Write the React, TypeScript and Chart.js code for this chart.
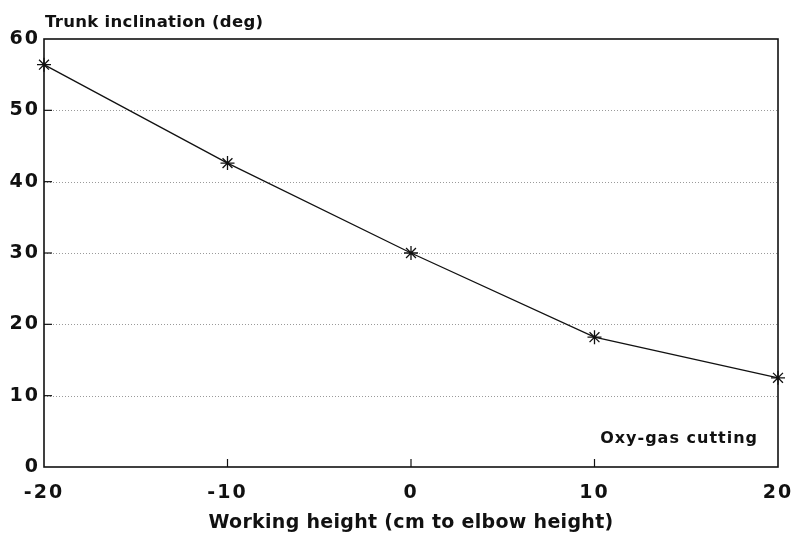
import React, { useEffect, useRef } from 'react';
import { Chart, registerables } from 'chart.js';

Chart.register(...registerables);

const workingHeights = [-20, -10, 0, 10, 20];
const trunkInclination = [56.4, 42.6, 30.0, 18.2, 12.5];
const xTickValues = [-20, -10, 0, 10, 20];
const yTickValues = [0, 10, 20, 30, 40, 50, 60];
const yTitle = 'Trunk inclination (deg)';
const xTitle = 'Working height (cm to elbow height)';
const noteText = 'Oxy-gas cutting';

const FONT = '"DejaVu Sans", sans-serif';

const spacingPlugin = {
  id: 'spacingPlugin',
  beforeLayout(chart: any) {
    (chart.ctx as any).letterSpacing = '2px';
  },
  beforeDraw(chart: any) {
    (chart.ctx as any).letterSpacing = '2px';
  },
};

const framePlugin = {
  id: 'framePlugin',
  beforeDatasetsDraw(chart: any) {
    const { ctx, chartArea, scales } = chart;
    const y = scales.y;
    ctx.save();
    ctx.strokeStyle = '#9a9a9a';
    ctx.lineWidth = 1;
    ctx.setLineDash([1, 2]);
    yTickValues.forEach((v) => {
      if (v === yTickValues[0] || v === yTickValues[yTickValues.length - 1]) return;
      const py = Math.round(y.getPixelForValue(v)) + 0.5;
      ctx.beginPath();
      ctx.moveTo(chartArea.left, py);
      ctx.lineTo(chartArea.right, py);
      ctx.stroke();
    });
    ctx.restore();
  },
  afterDraw(chart: any) {
    const { ctx, chartArea, scales } = chart;
    const x = scales.x;
    const y = scales.y;
    ctx.save();
    ctx.setLineDash([]);
    ctx.strokeStyle = '#111';
    ctx.lineWidth = 1.6;
    ctx.strokeRect(chartArea.left, chartArea.top, chartArea.right - chartArea.left, chartArea.bottom - chartArea.top);
    ctx.lineWidth = 1.2;
    yTickValues.slice(1, -1).forEach((v) => {
      const py = y.getPixelForValue(v);
      ctx.beginPath();
      ctx.moveTo(chartArea.left, py);
      ctx.lineTo(chartArea.left + 8, py);
      ctx.stroke();
    });
    xTickValues.slice(1, -1).forEach((v) => {
      const px = x.getPixelForValue(v);
      ctx.beginPath();
      ctx.moveTo(px, chartArea.bottom);
      ctx.lineTo(px, chartArea.bottom - 8);
      ctx.stroke();
    });
    ctx.fillStyle = '#111';
    ctx.textBaseline = 'alphabetic';
    ctx.font = `bold 16.5px ${FONT}`;
    ctx.textAlign = 'left';
    (ctx as any).letterSpacing = '0.3px';
    ctx.fillText(yTitle, chartArea.left + 1, 27);
    ctx.font = `bold 19px ${FONT}`;
    ctx.textAlign = 'center';
    (ctx as any).letterSpacing = '0.3px';
    ctx.fillText(xTitle, 411, 528);
    ctx.font = `bold 16px ${FONT}`;
    ctx.textAlign = 'right';
    (ctx as any).letterSpacing = '1px';
    ctx.fillText(noteText, chartArea.right - 20, 443);
    ctx.restore();
  },
};

export default function App() {
  const canvasRef = useRef<HTMLCanvasElement>(null);

  useEffect(() => {
    if (!canvasRef.current) return;
    const chart = new Chart(canvasRef.current, {
      type: 'line',
      data: {
        datasets: [
          {
            data: workingHeights.map((h, i) => ({ x: h, y: trunkInclination[i] })),
            borderColor: '#111',
            borderWidth: 1.3,
            pointStyle: 'star',
            pointRadius: 7,
            pointBorderColor: '#111',
            pointBorderWidth: 1.3,
            pointBackgroundColor: '#111',
            fill: false,
            tension: 0,
            clip: false as any,
          },
        ],
      },
      options: {
        animation: false,
        responsive: true,
        maintainAspectRatio: false,
        layout: { padding: { top: 39, right: 16, left: 0, bottom: 0 } },
        plugins: {
          legend: { display: false },
          tooltip: { enabled: false },
          title: { display: false },
        },
        scales: {
          x: {
            type: 'linear',
            min: -20,
            max: 20,
            afterBuildTicks: (scale: any) => {
              scale.ticks = xTickValues.map((v) => ({ value: v }));
            },
            afterFit: (scale: any) => {
              scale.height = 68;
              scale.paddingLeft = 0;
              scale.paddingRight = 0;
            },
            grid: { display: false, drawTicks: false },
            border: { display: false },
            ticks: {
              color: '#111',
              padding: 15,
              maxRotation: 0,
              autoSkip: false,
              font: { family: FONT, size: 19, weight: 'bold' },
            },
          },
          y: {
            type: 'linear',
            min: 0,
            max: 60,
            afterBuildTicks: (scale: any) => {
              scale.ticks = yTickValues.map((v) => ({ value: v }));
            },
            afterFit: (scale: any) => {
              scale.width = 44;
              scale.paddingTop = 0;
              scale.paddingBottom = 0;
            },
            grid: { display: false, drawTicks: false },
            border: { display: false },
            ticks: {
              color: '#111',
              padding: 4,
              autoSkip: false,
              font: { family: FONT, size: 19, weight: 'bold' },
            },
          },
        },
      },
      plugins: [spacingPlugin, framePlugin],
    });
    return () => chart.destroy();
  }, []);

  return (
    <div style={{ position: 'fixed', left: 0, top: 0, width: 794, height: 535, background: '#fff' }}>
      <canvas ref={canvasRef} />
    </div>
  );
}
